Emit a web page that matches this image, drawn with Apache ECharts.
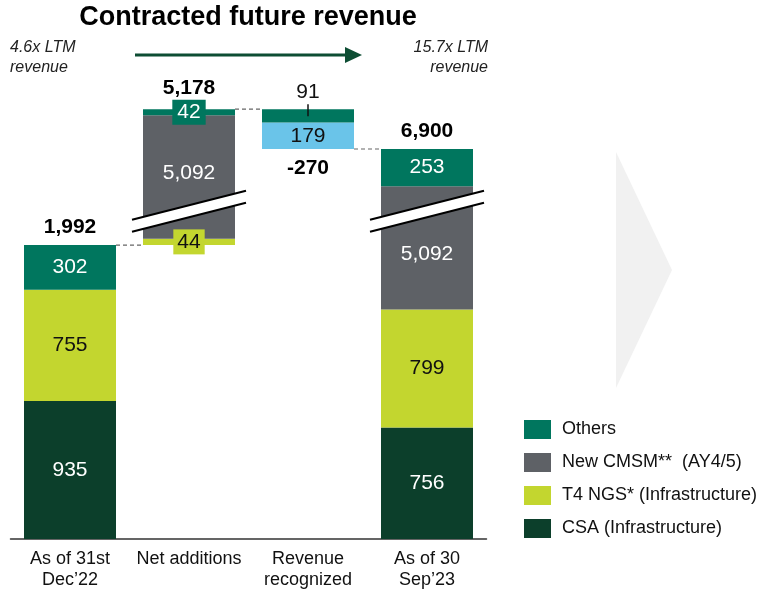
<!DOCTYPE html>
<html><head><meta charset="utf-8">
<script src="https://cdn.jsdelivr.net/npm/echarts@6/dist/echarts.min.js"></script>
<style>html,body{margin:0;padding:0;background:#fff}#c{width:763px;height:592px}</style>
</head><body><div id="c"></div>
<script>
// ---- data ----
const categories = ['As of 31st\nDec\u201922', 'Net additions', 'Revenue\nrecognized', 'As of 30\nSep\u201923'];
const csaValues = [935, 0, 0, 756];
const t4Values = [755, 44, 0, 799];
const cmsmValues = [0, 5092, 0, 5092];
const recognizedValues = [0, 0, 179, 0];
const othersValues = [302, 42, 91, 253];
const totalLabels = ['1,992', '5,178', '-270', '6,900'];
const legendNames = ['Others', 'New CMSM**  (AY4/5)', 'T4 NGS* (Infrastructure)', 'CSA (Infrastructure)'];
const axisBreak = [2100, 6600];

// waterfall levels derived from the values
const startTotal = csaValues[0] + t4Values[0] + cmsmValues[0] + othersValues[0];
const afterAdditions = startTotal + t4Values[1] + cmsmValues[1] + othersValues[1];
const endTotal = afterAdditions - recognizedValues[2] - othersValues[2];
const baseValues = [0, startTotal, endTotal, 0];
const tops = [startTotal, afterAdditions, afterAdditions, endTotal];
const bottoms = [0, startTotal, endTotal, 0];
const connectorLevels = [startTotal, afterAdditions, endTotal];

// ---- style ----
const C_OTHERS = '#00765e', C_CMSM = '#5e6166', C_T4 = '#c3d62f', C_CSA = '#0c3f2b', C_REC = '#6ac4e9';
const FONT = 'Liberation Sans, Arial, sans-serif';
const BAR_W = 92;
const fmt = v => v ? Number(v).toLocaleString('en-US') : '';

const chart = echarts.init(document.getElementById('c'), null, {renderer: 'canvas'});

function segSeries(name, values, color, labelColor, itemOverrides) {
  return {
    name, type: 'bar', stack: 'w', barWidth: BAR_W,
    itemStyle: {color},
    label: {show: true, position: 'inside', color: labelColor, fontSize: 21, fontFamily: FONT,
      formatter: p => fmt(p.value)},
    data: values.map((v, i) => Object.assign({value: v}, (itemOverrides && itemOverrides[i]) || {}))
  };
}

const option = {
  animation: false,
  backgroundColor: '#fff',
  grid: {left: 10.5, right: 276.5, top: 90, bottom: 53},
  xAxis: {
    type: 'category', data: categories,
    axisLine: {lineStyle: {color: '#333', width: 1.5}},
    axisTick: {show: false},
    axisLabel: {fontSize: 18, color: '#111', lineHeight: 21, margin: 10, fontFamily: FONT, interval: 0}
  },
  yAxis: {
    type: 'value', min: 0, max: 7300, show: false, splitLine: {show: false},
    breaks: [{start: axisBreak[0], end: axisBreak[1], gap: '8%'}],
    breakArea: {show: false}
  },
  legend: {
    orient: 'vertical', left: 524, top: 420, padding: 0, itemWidth: 27, itemHeight: 19, itemGap: 14,
    icon: 'rect', data: legendNames, selectedMode: false,
    textStyle: {fontSize: 18, color: '#111', fontFamily: FONT, padding: [0, 0, 0, 6]}
  },
  series: [
    {name: 'base', type: 'bar', stack: 'w', barWidth: BAR_W, silent: true,
      itemStyle: {color: 'rgba(0,0,0,0)'}, data: baseValues},
    segSeries(legendNames[3], csaValues, C_CSA, '#fff'),
    segSeries(legendNames[2], t4Values, C_T4, '#111', {1: {label: {backgroundColor: C_T4, padding: [2, 4]}}}),
    segSeries(legendNames[1], cmsmValues, C_CMSM, '#fff', {1: {label: {offset: [0, -4]}}, 3: {label: {offset: [0, 6]}}}),
    segSeries('Revenue recognized', recognizedValues, C_REC, '#111'),
    segSeries(legendNames[0], othersValues, C_OTHERS, '#fff', {
      1: {label: {backgroundColor: C_OTHERS, padding: [2, 5]}},
      2: {label: {position: 'top', color: '#111', distance: 6}}
    }),
    {
      name: 'annotations', type: 'custom', silent: true, clip: false, z: 10,
      encode: {x: 0, y: 1},
      data: categories.map((c, i) => [i, tops[i], bottoms[i]]),
      renderItem: function (params, api) {
        const i = api.value(0);
        const pTop = api.coord([i, api.value(1)]);
        const yBottom = api.coord([i, api.value(2)])[1];
        const xc = pTop[0], half = BAR_W / 2;
        const ch = [];
        // connector to next bar
        if (i < categories.length - 1) {
          const y = api.coord([i, connectorLevels[i]])[1];
          const xn = api.coord([i + 1, connectorLevels[i]])[0];
          ch.push({type: 'line', shape: {x1: xc + half, y1: y, x2: xn - half, y2: y},
            style: {stroke: '#666', lineWidth: 1.2, lineDash: [4, 3]}});
        }
        // break marker
        if (cmsmValues[i] > 0) {
          const y1 = api.coord([i, axisBreak[0]])[1];
          const y2 = api.coord([i, axisBreak[1]])[1];
          const yc = (y1 + y2) / 2, w = 57, d = 14.5, s = 6;
          ch.push({type: 'polygon', shape: {points: [
            [xc - w, yc - s + d], [xc + w, yc - s - d], [xc + w, yc + s - d], [xc - w, yc + s + d]]},
            style: {fill: '#fff'}});
          ch.push({type: 'line', shape: {x1: xc - w, y1: yc - s + d, x2: xc + w, y2: yc - s - d},
            style: {stroke: '#000', lineWidth: 2}});
          ch.push({type: 'line', shape: {x1: xc - w, y1: yc + s + d, x2: xc + w, y2: yc + s - d},
            style: {stroke: '#000', lineWidth: 2}});
        }
        // total labels
        if (i === 2) {
          ch.push({type: 'text', style: {text: totalLabels[i], x: xc, y: yBottom + 9, align: 'center',
            verticalAlign: 'top', font: 'bold 21px ' + FONT, fill: '#000'}});
          ch.push({type: 'line', shape: {x1: xc, y1: pTop[1] - 5, x2: xc, y2: pTop[1] + 7},
            style: {stroke: '#111', lineWidth: 1.5}});
        } else {
          ch.push({type: 'text', style: {text: totalLabels[i], x: xc, y: pTop[1] - (i === 1 ? 10 : 7),
            align: 'center', verticalAlign: 'bottom', font: 'bold 21px ' + FONT, fill: '#000'}});
        }
        return {type: 'group', children: ch};
      }
    }
  ],
  graphic: [
    {type: 'text', style: {text: 'Contracted future revenue', x: 248, y: 18, align: 'center',
      verticalAlign: 'middle', font: 'bold 27px ' + FONT, fill: '#000'}},
    {type: 'text', style: {text: '4.6x LTM\nrevenue', x: 10, y: 38, align: 'left', verticalAlign: 'top',
      font: 'italic 16px ' + FONT, fill: '#222', lineHeight: 20}},
    {type: 'text', style: {text: '15.7x LTM\nrevenue', x: 488, y: 38, align: 'right', verticalAlign: 'top',
      font: 'italic 16px ' + FONT, fill: '#222', lineHeight: 20}},
    {type: 'line', shape: {x1: 135, y1: 55, x2: 348, y2: 55}, style: {stroke: '#0d4d33', lineWidth: 3}},
    {type: 'polygon', shape: {points: [[345, 47], [362, 55], [345, 63]]}, style: {fill: '#0d4d33'}},
    {type: 'polygon', shape: {points: [[616, 152], [672, 270], [616, 388]]}, style: {fill: '#f1f1f1'}, z: -1}
  ]
};
chart.setOption(option);
</script>
</body></html>
